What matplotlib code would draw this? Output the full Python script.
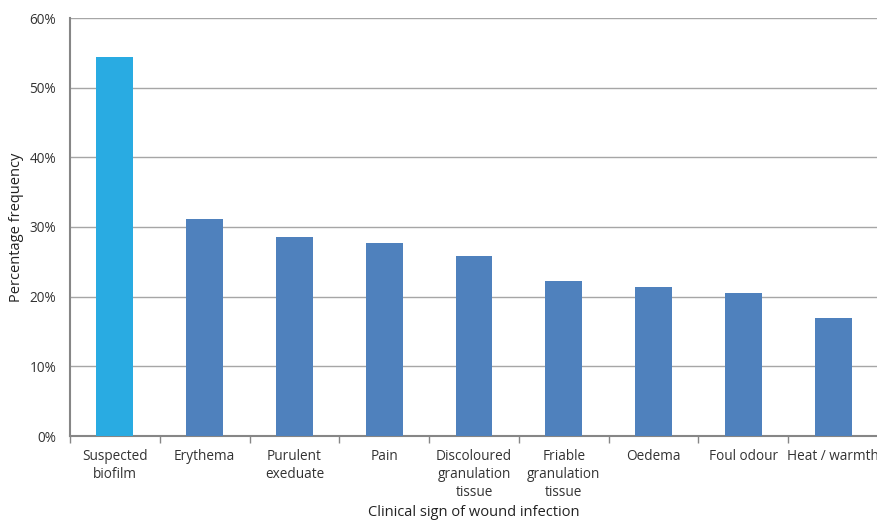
import matplotlib
matplotlib.use("Agg")
import matplotlib.pyplot as plt
from matplotlib.ticker import FuncFormatter, MultipleLocator

categories = ["Suspected\nbiofilm", "Erythema", "Purulent\nexeduate", "Pain",
              "Discoloured\ngranulation\ntissue", "Friable\ngranulation\ntissue",
              "Oedema", "Foul odour", "Heat / warmth"]
values = [54.4, 31.2, 28.5, 27.7, 25.9, 22.3, 21.4, 20.5, 16.9]
colors = ["#29ABE2"] + ["#4F81BD"] * 8

plt.rcParams["font.family"] = ["Open Sans", "DejaVu Sans"]

fig = plt.figure(figsize=(8.78, 5.22), dpi=100)
ax = fig.add_axes([70 / 878, 86 / 522, 808 / 878, 418 / 522])

x = list(range(len(categories)))
ax.bar(x, values, width=0.41, color=colors, zorder=3)

ax.set_xlim(-0.5, len(categories) - 0.5)
ax.set_ylim(0, 60)
ax.yaxis.set_major_locator(MultipleLocator(10))
ax.yaxis.set_major_formatter(FuncFormatter(lambda v, _: f"{v:.0f}%"))
ax.grid(axis="y", color="#a6a6a6", linewidth=1.0, zorder=0)

ax.set_xticks([i - 0.5 for i in range(len(categories) + 1)])
ax.set_xticklabels([])
ax.set_xticks(x, minor=True)
ax.set_xticklabels(categories, minor=True, fontsize=9.8, color="#333333",
                   linespacing=1.28)
ax.tick_params(axis="x", which="major", length=5, color="#868686", width=1)
ax.tick_params(axis="x", which="minor", length=0, pad=9)
ax.tick_params(axis="y", length=0, pad=10, labelsize=9.8, labelcolor="#333333")

for side in ("top", "right"):
    ax.spines[side].set_visible(False)
for side in ("left", "bottom"):
    ax.spines[side].set_color("#868686")
    ax.spines[side].set_linewidth(1.5)

fig.text(17 / 878, 1 - 227 / 522, "Percentage frequency", rotation=90,
         ha="center", va="center", fontsize=10.5, color="#222222")
fig.text(474 / 878, 1 - 512 / 522, "Clinical sign of wound infection",
         ha="center", va="center", fontsize=10.5, color="#222222")

fig.savefig("out.png", dpi=100, facecolor="white")
